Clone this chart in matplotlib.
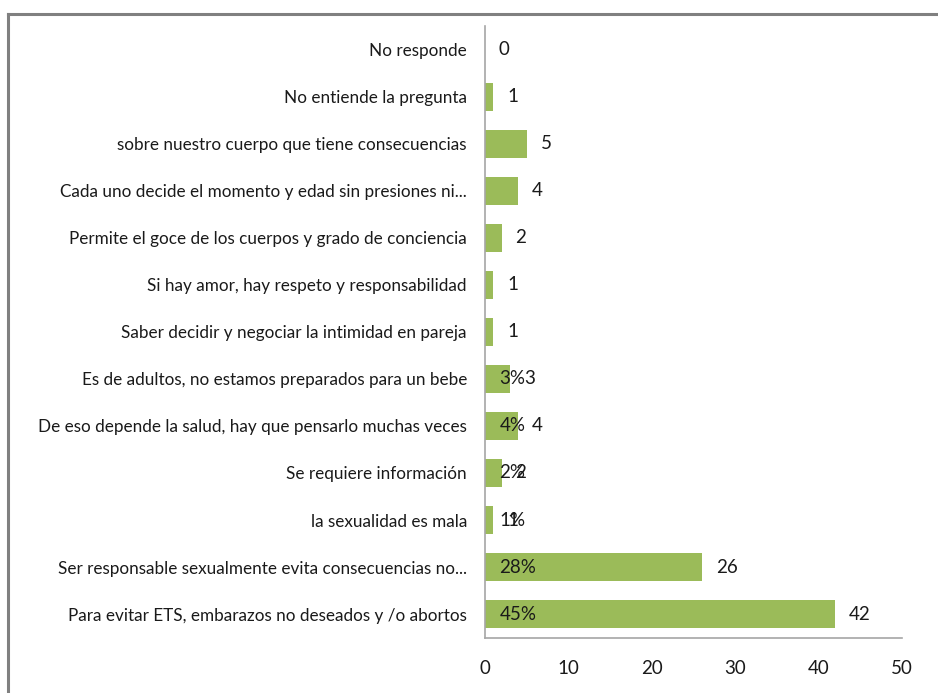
import matplotlib.pyplot as plt
from matplotlib.lines import Line2D

# categories top to bottom
categories = [
    'No responde',
    'No entiende la pregunta',
    'sobre nuestro cuerpo que tiene consecuencias',
    'Cada uno decide el momento y edad sin presiones ni...',
    'Permite el goce de los cuerpos y grado de conciencia',
    'Si hay amor, hay respeto y responsabilidad',
    'Saber decidir y negociar la intimidad en pareja',
    'Es de adultos, no estamos preparados para un bebe',
    'De eso depende la salud, hay que pensarlo muchas veces',
    'Se requiere información',
    'la sexualidad es mala',
    'Ser responsable sexualmente evita consecuencias no...',
    'Para evitar ETS, embarazos no deseados y /o abortos',
]
counts = [0, 1, 5, 4, 2, 1, 1, 3, 4, 2, 1, 26, 42]
percents = ['', '', '', '', '', '', '', '3%', '4%', '2%', '1%', '28%', '45%']
xticks = [0, 10, 20, 30, 40, 50]

label_font = ['Lato', 'DejaVu Sans']
num_font = ['Lato', 'DejaVu Sans']

fig = plt.figure(figsize=(9.38, 6.93), dpi=100)
ax = fig.add_axes([0.517, 0.080, 0.4445, 0.882])

ypos = list(range(len(categories)))[::-1]
ax.barh(ypos, counts, height=0.6, color='#9BBB59', edgecolor='none')

for y, v, p in zip(ypos, counts, percents):
    ax.annotate(str(v), (v, y), xytext=(10, 0), textcoords='offset points',
                va='center', ha='left', fontsize=13.5, color='#1a1a1a', family=num_font)
    if p:
        ax.annotate(p, (0, y), xytext=(10.5, 0), textcoords='offset points',
                    va='center', ha='left', fontsize=13.5, color='#1a1a1a', family=num_font)

ax.set_yticks(ypos)
ax.set_yticklabels(categories, fontsize=12.3, color='#1a1a1a', family=label_font)
ax.set_xticks(xticks)
ax.set_xticklabels([str(t) for t in xticks], fontsize=13.5, color='#1a1a1a', family=num_font)
ax.set_xlim(0, 50)
ax.set_ylim(-0.5, len(categories) - 0.5)
ax.tick_params(axis='both', length=0)
ax.tick_params(axis='y', pad=13)
ax.tick_params(axis='x', pad=16)

for s in ['top', 'right']:
    ax.spines[s].set_visible(False)
for s in ['left', 'bottom']:
    ax.spines[s].set_color('#A6A6A6')
    ax.spines[s].set_linewidth(1.2)

# outer frame (top and left visible in the crop)
fig.add_artist(Line2D([0.008, 1.0], [0.980, 0.980], transform=fig.transFigure,
                      color='#808080', linewidth=2.2))
fig.add_artist(Line2D([0.008, 0.008], [0.0, 0.980], transform=fig.transFigure,
                      color='#808080', linewidth=2.2))

fig.savefig('out.png', dpi=100)
